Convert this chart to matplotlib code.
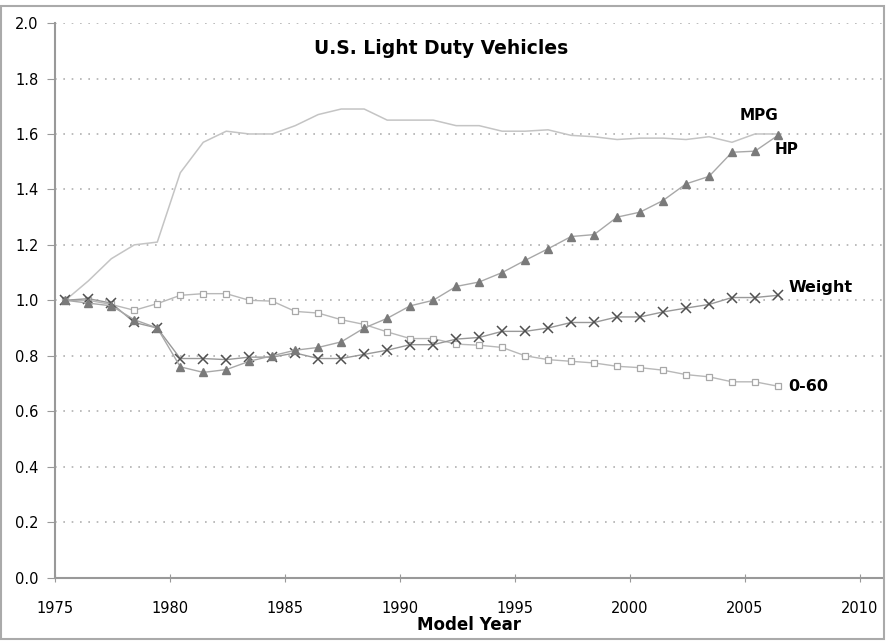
import matplotlib
matplotlib.use("Agg")
import matplotlib.pyplot as plt
from matplotlib.patches import Rectangle
import numpy as np

# Data (index 1975 = 1.0)
years = np.arange(1975, 2007)
mpg = [1.00, 1.07, 1.15, 1.20, 1.21, 1.46, 1.57, 1.61, 1.60, 1.60,
       1.63, 1.67, 1.69, 1.69, 1.65, 1.65, 1.65, 1.63, 1.63, 1.61,
       1.61, 1.615, 1.595, 1.59, 1.58, 1.585, 1.585, 1.58, 1.59, 1.57,
       1.60, 1.60]
hp = [1.00, 0.99, 0.98, 0.93, 0.90, 0.76, 0.74, 0.75, 0.78, 0.80,
      0.82, 0.83, 0.85, 0.90, 0.935, 0.98, 1.00, 1.05, 1.066, 1.10,
      1.144, 1.186, 1.23, 1.237, 1.30, 1.318, 1.36, 1.42, 1.447, 1.534,
      1.538, 1.595]
weight = [1.00, 1.006, 0.99, 0.92, 0.90, 0.79, 0.79, 0.786, 0.795, 0.795,
          0.81, 0.79, 0.79, 0.805, 0.82, 0.84, 0.84, 0.86, 0.866, 0.888,
          0.888, 0.90, 0.92, 0.92, 0.94, 0.94, 0.958, 0.972, 0.985, 1.01,
          1.01, 1.018]
zero60 = [1.00, 1.00, 0.985, 0.964, 0.988, 1.018, 1.024, 1.024, 1.00, 0.997,
          0.96, 0.954, 0.93, 0.913, 0.886, 0.862, 0.862, 0.842, 0.838, 0.83,
          0.80, 0.786, 0.78, 0.774, 0.762, 0.757, 0.748, 0.732, 0.724, 0.706,
          0.706, 0.69]

x = years + 0.45  # points sit mid-year in the original chart

fig = plt.figure(figsize=(8.87, 6.41), dpi=100)
ax = fig.add_axes([0.062, 0.099, 0.933, 0.865])

ax.plot(x, mpg, color="#c4c4c4", linewidth=1.1)
ax.plot(x, zero60, color="#b8b8b8", linewidth=1.0, marker="s", markersize=5,
        markerfacecolor="white", markeredgecolor="#a8a8a8", markeredgewidth=0.9)
ax.plot(x, weight, color="#999999", linewidth=1.0, marker="x", markersize=7.5,
        markeredgecolor="#505050", markeredgewidth=1.1)
ax.plot(x, hp, color="#a8a8a8", linewidth=1.0, marker="^", markersize=5.5,
        markerfacecolor="#7a7a7a", markeredgecolor="#7a7a7a")

ax.set_xlim(1975, 2011)
ax.set_ylim(0, 2.0)
ax.set_xticks(np.arange(1975, 2011, 5))
ax.set_yticks(np.arange(0, 2.01, 0.2))
ax.set_yticklabels([f"{v:.1f}" for v in np.arange(0, 2.01, 0.2)])
ax.yaxis.grid(True, linestyle=(0, (1, 4)), color="#b0b0b0", linewidth=1.2)
ax.tick_params(axis="y", direction="out", length=6, color="#999999", labelsize=10.5, pad=6)
ax.tick_params(axis="x", direction="inout", length=6, color="#999999", labelsize=10.5, pad=14)
for s in ["top", "right"]:
    ax.spines[s].set_visible(False)
for s in ["left", "bottom"]:
    ax.spines[s].set_color("#999999")
    ax.spines[s].set_linewidth(1.5)

ax.set_xlabel("Model Year", fontsize=12, fontweight="bold", labelpad=0)
ax.text(1991.8, 1.91, "U.S. Light Duty Vehicles", fontsize=13.5,
        fontweight="bold", ha="center", va="center")

ax.text(2004.8, 1.665, "MPG", fontsize=11, fontweight="bold", ha="left", va="center")
ax.text(2006.3, 1.545, "HP", fontsize=11, fontweight="bold", ha="left", va="center")
ax.text(2006.9, 1.045, "Weight", fontsize=11.5, fontweight="bold", ha="left", va="center")
ax.text(2006.9, 0.69, "0-60", fontsize=11.5, fontweight="bold", ha="left", va="center")

fig.patches.append(Rectangle((0.001, 0.003), 0.996, 0.987, transform=fig.transFigure,
                             fill=False, edgecolor="#aaaaaa", linewidth=1.5))

fig.savefig("out.png", dpi=100)
